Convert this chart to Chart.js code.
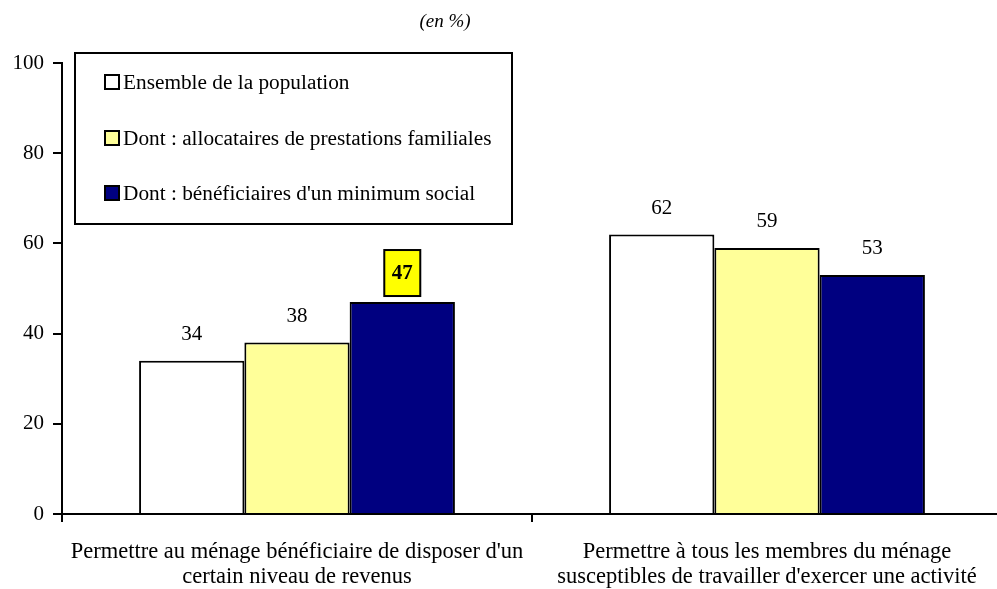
<!DOCTYPE html>
<html>
<head>
<meta charset="utf-8">
<script src="https://cdn.jsdelivr.net/npm/chart.js@4"></script>
<style>
  body { margin: 0; background: #fff; overflow: hidden; }
  #wrap { position: relative; width: 1002px; height: 589px; }
</style>
</head>
<body>
<div id="wrap"><canvas id="chart"></canvas></div>
<script>
const categories = [
    ["Permettre au ménage bénéficiaire de disposer d'un", "certain niveau de revenus"],
    ["Permettre à tous les membres du ménage", "susceptibles de travailler d'exercer une activité"]
];
const seriesNames = [
    "Ensemble de la population",
    "Dont : allocataires de prestations familiales",
    "Dont : bénéficiaires d'un minimum social"
];
const ensemble = [34, 62];
const allocataires = [38, 59];
const minimumSocial = [47, 53];
const yTicks = [0, 20, 40, 60, 80, 100];

const colors = ['#FFFFFF', '#FFFF99', '#000080'];
const FONT = '"Liberation Serif", "Times New Roman", serif';

// value labels above bars, the minimum-social one on the first group is boxed
const valueLabels = {
    id: 'valueLabels',
    afterDatasetsDraw(chart) {
        const ctx = chart.ctx;
        ctx.save();
        ctx.textAlign = 'center';
        ctx.textBaseline = 'middle';
        chart.data.datasets.forEach((ds, i) => {
            chart.getDatasetMeta(i).data.forEach((bar, j) => {
                const v = ds.data[j];
                if (i === 2 && j === 0) {
                    const cy = bar.y - 29;
                    ctx.fillStyle = '#FFFF00';
                    ctx.fillRect(bar.x - 18, cy - 23, 36, 46);
                    ctx.strokeStyle = '#000';
                    ctx.lineWidth = 2;
                    ctx.strokeRect(bar.x - 18, cy - 23, 36, 46);
                    ctx.fillStyle = '#000';
                    ctx.font = 'bold 21px ' + FONT;
                    ctx.fillText(String(v), bar.x, cy + 1);
                } else {
                    ctx.fillStyle = '#000';
                    ctx.font = '21px ' + FONT;
                    ctx.fillText(String(v), bar.x, bar.y - 26);
                }
            });
        });
        ctx.restore();
    }
};

// boxed legend sitting inside the plot, plus the "(en %)" note
const boxLegend = {
    id: 'boxLegend',
    afterDraw(chart) {
        const ctx = chart.ctx;
        ctx.save();
        ctx.fillStyle = '#fff';
        ctx.fillRect(75, 53, 437, 171);
        ctx.strokeStyle = '#000';
        ctx.lineWidth = 2;
        ctx.strokeRect(75, 53, 437, 171);
        const rows = [82, 138, 193];
        ctx.font = '21.3px ' + FONT;
        ctx.textBaseline = 'middle';
        ctx.textAlign = 'left';
        chart.data.datasets.forEach((ds, i) => {
            const y = rows[i];
            ctx.fillStyle = ds.backgroundColor;
            ctx.fillRect(105, y - 7, 14, 14);
            ctx.strokeRect(105, y - 7, 14, 14);
            ctx.fillStyle = '#000';
            ctx.fillText(ds.label, 123, y + 1);
        });
        ctx.font = 'italic 19px ' + FONT;
        ctx.textAlign = 'center';
        ctx.fillText('(en %)', 445, 22);
        ctx.restore();
    }
};

const values = [ensemble, allocataires, minimumSocial];

new Chart(document.getElementById('chart'), {
    type: 'bar',
    data: {
        labels: categories,
        datasets: values.map((d, i) => ({
            label: seriesNames[i],
            data: d,
            backgroundColor: colors[i],
            borderColor: '#000',
            borderWidth: 2,
            categoryPercentage: 0.672,
            barPercentage: 1.0
        }))
    },
    options: {
        responsive: true,
        maintainAspectRatio: false,
        animation: false,
        layout: { padding: { top: 63, left: 0, right: 0, bottom: 0 } },
        plugins: {
            legend: { display: false },
            tooltip: { enabled: false }
        },
        scales: {
            x: {
                grid: {
                    offset: true,
                    drawOnChartArea: false,
                    drawTicks: true,
                    tickLength: 8,
                    color: '#000',
                    lineWidth: 2
                },
                border: { color: '#000', width: 2 },
                ticks: {
                    color: '#000',
                    font: { family: FONT, size: 22.5, lineHeight: 1.11 },
                    padding: 18,
                    maxRotation: 0,
                    autoSkip: false
                },
                afterFit: s => { s.height = 75; }
            },
            y: {
                min: 0,
                max: 100,
                afterBuildTicks: s => { s.ticks = yTicks.map(v => ({ value: v })); },
                grid: {
                    drawOnChartArea: false,
                    drawTicks: true,
                    tickLength: 9,
                    color: '#000',
                    lineWidth: 2
                },
                border: { color: '#000', width: 2 },
                ticks: {
                    color: '#000',
                    font: { family: FONT, size: 21 },
                    padding: 9
                },
                afterFit: s => { s.width = 62; }
            }
        }
    },
    plugins: [valueLabels, boxLegend]
});
</script>
</body>
</html>
